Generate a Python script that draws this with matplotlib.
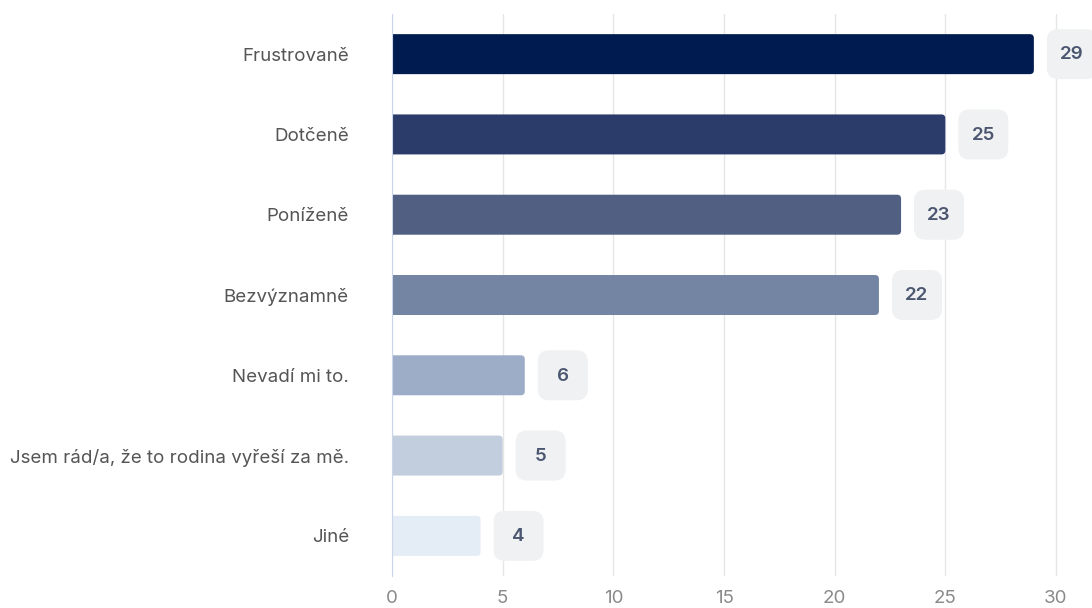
import matplotlib.pyplot as plt
from matplotlib.patches import FancyBboxPatch

# Data
categories = ['Frustrovaně', 'Dotčeně', 'Poníženě', 'Bezvýznamně',
              'Nevadí mi to.', 'Jsem rád/a, že to rodina vyřeší za mě.', 'Jiné']
values = [29, 25, 23, 22, 6, 5, 4]
bar_colors = ['#001b50', '#2b3c6a', '#505f82', '#7485a4',
              '#9eadc7', '#c2cede', '#e4ecf5']
x_ticks = [0, 5, 10, 15, 20, 25, 30]

plt.rcParams['font.family'] = ['Inter', 'DejaVu Sans']

fig = plt.figure(figsize=(10.92, 6.08), dpi=100, facecolor='white')
ax = fig.add_axes([392 / 1092, 32 / 608, 700 / 1092, 562 / 608])

xmax = 700 / (664 / 30)
ax.set_xlim(0, xmax)
ax.set_ylim(len(categories) - 0.5, -0.5)

# pixel -> data unit factors
px_x = xmax / 700
px_y = len(categories) / 562
aspect = px_y / px_x

bar_h = 40 * px_y
for i, (v, c) in enumerate(zip(values, bar_colors)):
    # start a bit left of 0 so the left corners are clipped square
    bar = FancyBboxPatch((-0.5, i - bar_h / 2), v + 0.5, bar_h,
                         boxstyle='round,pad=0,rounding_size=%f' % (4 * px_x),
                         mutation_aspect=aspect, fc=c, ec='none', zorder=3)
    ax.add_patch(bar)

    # value badge
    bw = 50 * px_x
    bh = 50 * px_y
    bx = v + 13 * px_x
    badge = FancyBboxPatch((bx, i - bh / 2), bw, bh,
                           boxstyle='round,pad=0,rounding_size=%f' % (11 * px_x),
                           mutation_aspect=aspect, fc='#f0f1f2', ec='none',
                           zorder=3, clip_on=False)
    ax.add_patch(badge)
    ax.text(bx + bw / 2, i + 0.01, str(v), ha='center', va='center',
            fontsize=13.5, fontweight='semibold', color='#4b5670', zorder=4)

ax.set_yticks(range(len(categories)))
ax.set_yticklabels(categories)
ax.set_xticks(x_ticks)
ax.tick_params(axis='y', length=0, pad=31, labelsize=13.5, labelcolor='#555555')
ax.tick_params(axis='x', length=0, pad=10, labelsize=13.5, labelcolor='#8a8a8a')

ax.grid(axis='x', color='#e6e6e6', lw=1, zorder=0)
ax.set_axisbelow(True)
for s in ['top', 'right', 'bottom']:
    ax.spines[s].set_visible(False)
ax.spines['left'].set_color('#ccd6eb')
ax.spines['left'].set_zorder(5)

fig.savefig('out.png', dpi=100, facecolor='white')
